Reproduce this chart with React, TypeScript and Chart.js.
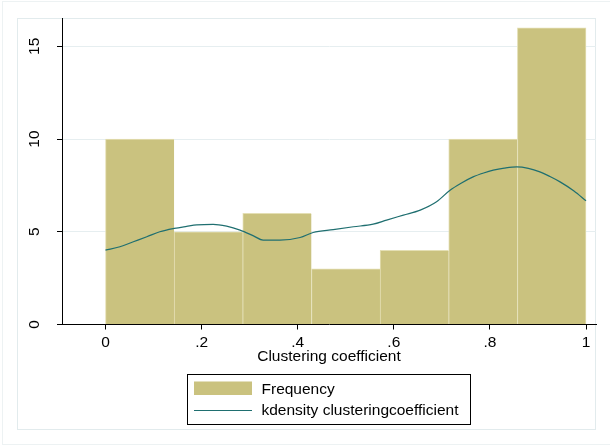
import React, { useEffect, useRef } from "react";
import { Chart, registerables } from "chart.js";

Chart.register(...registerables);

// Histogram bins (centres of seven equal-width bins on [0, 1]) and their counts
const binCenters = [0.0714, 0.2143, 0.3571, 0.5, 0.6429, 0.7857, 0.9286];
const frequencies = [10, 5, 6, 3, 4, 10, 16];

// Kernel density of the clustering coefficient, scaled to frequency units
const kdensityX = [
  0, 0.03, 0.058, 0.086, 0.113, 0.143, 0.169, 0.19, 0.224, 0.252, 0.28, 0.308,
  0.328, 0.363, 0.405, 0.432, 0.474, 0.516, 0.557, 0.585, 0.62, 0.655, 0.689,
  0.717, 0.74, 0.765, 0.787, 0.807, 0.83, 0.856, 0.88, 0.904, 0.925, 0.946,
  0.975, 1.0,
];
const kdensityY = [
  4.01, 4.19, 4.46, 4.73, 5.0, 5.18, 5.29, 5.37, 5.4, 5.3, 5.09, 4.78, 4.55,
  4.55, 4.69, 4.96, 5.12, 5.27, 5.41, 5.63, 5.9, 6.17, 6.62, 7.24, 7.62, 7.96,
  8.17, 8.32, 8.43, 8.5, 8.42, 8.23, 7.98, 7.69, 7.2, 6.67,
];

const xTicks = [0, 0.2, 0.4, 0.6, 0.8, 1];
const yTicks = [0, 5, 10, 15];

const FONT = '"Liberation Sans", Arial, sans-serif';
const FONT_SIZE = 15.5;
const BAR_COLOR = "#cac27f";
const BAR_EDGE = "#e4dfb4";
const LINE_COLOR = "#1f6f70";
const GRID_COLOR = "#e6eef0";

const fmtX = (v: number) => {
  if (v === 0) return "0";
  if (v === 1) return "1";
  return String(Math.round(v * 10) / 10).replace(/^0/, "");
};

// White background plus the outer and inner region frames
const framePlugin = {
  id: "frames",
  beforeDraw(chart: any) {
    const { ctx, width, height } = chart;
    ctx.save();
    ctx.fillStyle = "#ffffff";
    ctx.fillRect(0, 0, width, height);
    ctx.lineWidth = 1;
    ctx.strokeStyle = "#edf2f3";
    ctx.strokeRect(2.5, 1.5, width - 1, height - 3);
    ctx.strokeStyle = "#e2ebed";
    ctx.strokeRect(17.5, 18.5, 578, 411);
    ctx.restore();
  },
};

// Vertical (rotated) y tick labels and the boxed legend below the axis title
const textPlugin = {
  id: "stataText",
  afterDraw(chart: any) {
    const { ctx } = chart;
    const yScale = chart.scales.y;
    ctx.save();
    ctx.fillStyle = "#000000";
    ctx.font = `${FONT_SIZE}px ${FONT}`;
    ctx.textAlign = "center";
    ctx.textBaseline = "alphabetic";
    yScale.ticks.forEach((t: any) => {
      const py = yScale.getPixelForValue(t.value);
      ctx.save();
      ctx.translate(38.5, py);
      ctx.rotate(-Math.PI / 2);
      ctx.fillText(String(t.value), 0, 0);
      ctx.restore();
    });

    const bars = chart.data.datasets[1];
    const line = chart.data.datasets[0];
    ctx.lineWidth = 1;
    ctx.strokeStyle = "#000000";
    ctx.strokeRect(187.5, 374.5, 283, 50);

    ctx.fillStyle = bars.backgroundColor;
    ctx.fillRect(194, 381.5, 58, 13.5);

    ctx.strokeStyle = line.borderColor;
    ctx.lineWidth = 1.2;
    ctx.beginPath();
    ctx.moveTo(194, 410.5);
    ctx.lineTo(252, 410.5);
    ctx.stroke();

    ctx.fillStyle = "#000000";
    ctx.textAlign = "left";
    ctx.textBaseline = "middle";
    ctx.fillText(bars.label, 261.5, 389.5);
    ctx.fillText(line.label, 261.5, 411);
    ctx.restore();
  },
};

export default function App() {
  const canvasRef = useRef<HTMLCanvasElement | null>(null);

  useEffect(() => {
    const canvas = canvasRef.current;
    if (!canvas) return;
    const lastBar = frequencies.length - 1;

    const chart = new Chart(canvas, {
      type: "bar",
      data: {
        datasets: [
          {
            type: "line",
            label: "kdensity clusteringcoefficient",
            data: kdensityX.map((x, i) => ({ x, y: kdensityY[i] })),
            borderColor: LINE_COLOR,
            borderWidth: 1.2,
            pointRadius: 0,
            cubicInterpolationMode: "monotone",
            fill: false,
            order: 0,
          },
          {
            type: "bar",
            label: "Frequency",
            data: binCenters.map((x, i) => ({ x, y: frequencies[i] })),
            backgroundColor: BAR_COLOR,
            borderColor: BAR_EDGE,
            borderWidth: (c: any) => ({
              top: 1,
              left: 1,
              right: c.dataIndex === lastBar ? 1 : 0,
              bottom: 0,
            }),
            borderSkipped: false,
            barPercentage: 1,
            categoryPercentage: 1,
            order: 1,
          },
        ],
      } as any,
      options: {
        responsive: false,
        animation: false,
        devicePixelRatio: 1,
        layout: { padding: { left: 0, top: 18.5, right: 14, bottom: 76.5 } },
        plugins: {
          legend: { display: false },
          tooltip: { enabled: false },
        },
        scales: {
          x: {
            type: "linear",
            offset: false,
            min: -0.0905,
            max: 1.0208,
            afterBuildTicks: (s: any) => {
              s.ticks = xTicks.map((v) => ({ value: v }));
            },
            afterFit: (s: any) => {
              s.height = 45;
            },
            grid: {
              offset: false,
              drawOnChartArea: false,
              drawTicks: true,
              tickLength: 5,
              tickColor: "#000000",
            },
            border: { display: true, color: "#000000", width: 1 },
            ticks: {
              padding: 4,
              color: "#000000",
              font: { family: FONT, size: FONT_SIZE },
              maxRotation: 0,
              autoSkip: false,
              callback: (v: any) => fmtX(Number(v)),
            },
            title: {
              display: true,
              text: "Clustering coefficient",
              color: "#000000",
              font: { family: FONT, size: FONT_SIZE },
              padding: { top: 0, bottom: 3 },
            },
          },
          y: {
            type: "linear",
            min: 0,
            max: 16.5,
            afterBuildTicks: (s: any) => {
              s.ticks = yTicks.map((v) => ({ value: v }));
            },
            afterFit: (s: any) => {
              s.width = 62;
            },
            grid: {
              color: GRID_COLOR,
              lineWidth: 1,
              drawTicks: true,
              tickLength: 5,
              tickColor: "#000000",
            },
            border: { display: true, color: "#000000", width: 1 },
            ticks: { display: false },
          },
        },
      } as any,
      plugins: [framePlugin, textPlugin],
    });

    return () => chart.destroy();
  }, []);

  return (
    <div style={{ position: "absolute", left: 0, top: 0, width: 610, height: 446 }}>
      <canvas ref={canvasRef} width={610} height={446} />
    </div>
  );
}
